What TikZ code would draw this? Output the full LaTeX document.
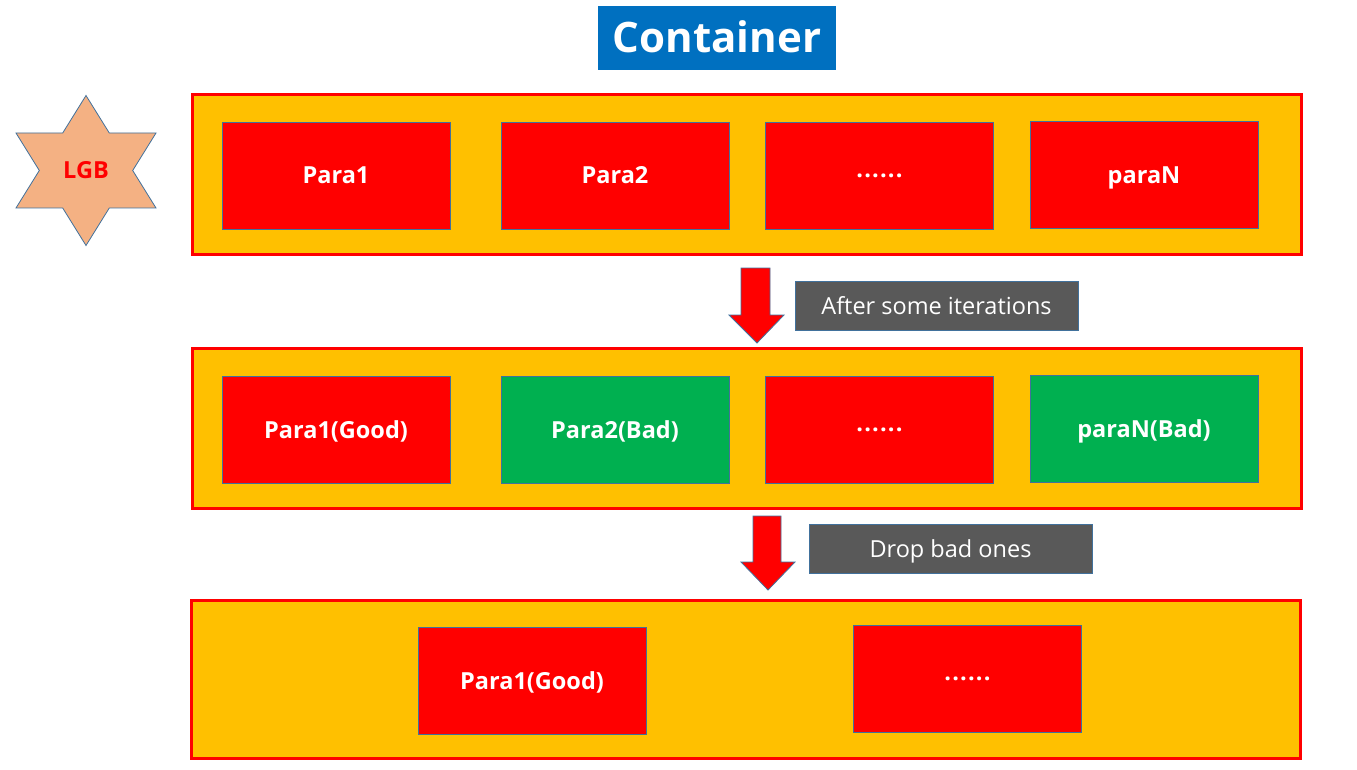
\documentclass[tikz,border=0pt]{standalone}
\usepackage{fontspec}
\setmainfont{Open Sans}
\definecolor{cont}{HTML}{FFC000}
\definecolor{pred}{HTML}{FF0000}
\definecolor{pgreen}{HTML}{00B050}
\definecolor{tblue}{HTML}{0070C0}
\definecolor{lgray}{HTML}{595959}
\definecolor{edge}{HTML}{41719C}
\definecolor{starfill}{HTML}{F4B183}
\newcommand{\mydots}{\raisebox{0.28em}{.\kern0.05em.\kern0.05em.\kern0.05em.\kern0.05em.\kern0.05em.}}
\begin{document}
\begin{tikzpicture}[x=1pt,y=-1pt,
  container/.style={draw=pred, line width=3pt, fill=cont},
  parabox/.style={draw=edge, line width=0.8pt, fill=pred, inner sep=0pt,
    minimum width=228pt, minimum height=107pt, text=white,
    text height=17pt, text depth=0pt,
    font=\fontsize{23.5}{28}\selectfont\bfseries},
  badbox/.style={parabox, fill=pgreen},
  labelbox/.style={draw=edge, line width=0.8pt, fill=lgray, inner sep=0pt,
    minimum width=283pt, minimum height=49pt, text=white,
    text height=17pt, text depth=0pt,
    font=\fontsize{23.5}{28}\selectfont},
  bigarrow/.style={draw=edge, line width=0.8pt, fill=pred}
]
\useasboundingbox (0,0) rectangle (1357,770);
\fill[white] (0,0) rectangle (1357,770);

% title
\node[fill=tblue, inner sep=0pt, minimum width=238pt, minimum height=64pt,
  text height=30pt, text depth=0pt,
  text=white, font=\fontsize{42}{48}\selectfont\bfseries] (title) at (717,38) {Container};

% star
\draw[draw=edge, line width=0.8pt, fill=starfill]
  (86,95.5) -- (109.3,133) -- (156,133) -- (132.7,170.5) -- (156,208) -- (109.3,208)
  -- (86,245.5) -- (62.7,208) -- (16,208) -- (39.3,170.5) -- (16,133) -- (62.7,133) -- cycle;
\node[text=pred, text height=17pt, text depth=0pt, inner sep=0pt,
  font=\fontsize{23.5}{28}\selectfont\bfseries] (lgb) at (86,170.5) {LGB};

% container 1
\draw[container] (192,95) rectangle (1301,254);
\node[parabox] (a1) at (336,175.5) {Para1};
\node[parabox] (a2) at (615,175.5) {Para2};
\node[parabox] (a3) at (879.5,175.5) {\mydots};
\node[parabox] (a4) at (1144,175) {paraN};

% arrow 1
\draw[bigarrow] (741,268) -- (770,268) -- (770,315) -- (784,315) -- (757,343) -- (729,315) -- (741,315) -- cycle;
\node[labelbox] (l1) at (936.5,305.5) {After some iterations};

% container 2
\draw[container] (192,348) rectangle (1301,508);
\node[parabox] (b1) at (336,429.5) {Para1(Good)};
\node[badbox] (b2) at (615,429.5) {Para2(Bad)};
\node[parabox] (b3) at (879.5,429.5) {\mydots};
\node[badbox] (b4) at (1144,428.5) {paraN(Bad)};

% arrow 2
\draw[bigarrow] (753,516) -- (781,516) -- (781,562) -- (795,562) -- (768,590) -- (741,562) -- (753,562) -- cycle;
\node[labelbox] (l2) at (950.5,548.5) {Drop bad ones};

% container 3
\draw[container] (191,600) rectangle (1300,758);
\node[parabox] (c1) at (532,680.5) {Para1(Good)};
\node[parabox] (c2) at (967.5,679) {\mydots};
\end{tikzpicture}
\end{document}
